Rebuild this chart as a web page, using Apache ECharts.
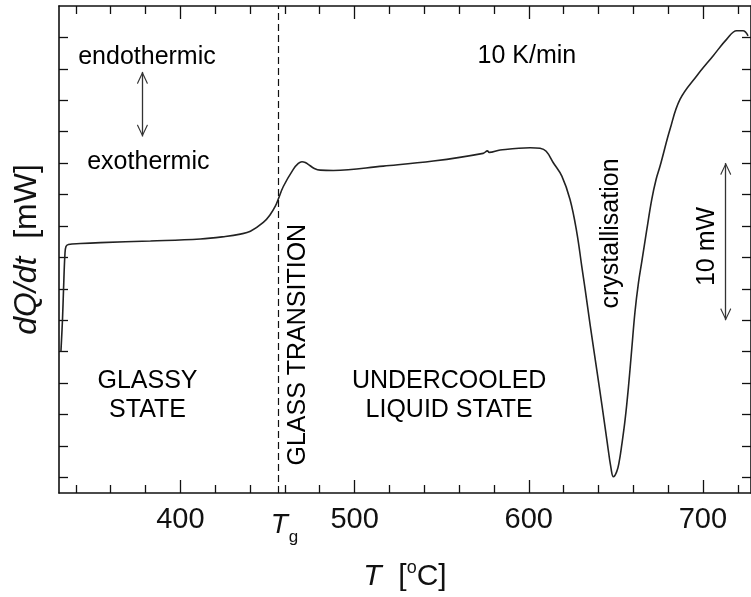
<!DOCTYPE html>
<html><head><meta charset="utf-8">
<script src="https://cdn.jsdelivr.net/npm/echarts@6/dist/echarts.min.js"></script>
<style>html,body{margin:0;padding:0;background:#fff}#c{width:751px;height:597px}</style>
</head><body><div id="c"></div>
<script>
// ---- data ----
const temperatures = [331.4, 332.3, 332.9, 333.7, 334.3, 335.7, 342.6, 354.1, 382.8, 411.5, 425.8, 434.4, 440.2, 447.6, 451.6, 454.5, 456.1, 459.1, 464.8, 467.7, 469.8, 471.7, 473.4, 476.9, 480.3, 487.8, 516.5, 545.2, 573.8, 576.3, 577.3, 583.6, 600.8, 606.5, 610.0, 614.0, 619.0, 623.7, 627.6, 630.5, 632.4, 635.2, 639.1, 642.0, 644.8, 647.3, 648.6, 650.5, 651.9, 653.4, 655.3, 657.2, 659.1, 661.0, 663.0, 664.9, 667.7, 670.6, 673.1, 675.4, 681.1, 686.9, 696.4, 705.8, 713.7, 719.4, 723.0, 725.9];
const heatFlow = [7.99, 10.03, 11.95, 14.18, 14.69, 14.82, 14.88, 14.94, 15.04, 15.17, 15.33, 15.48, 15.66, 16.22, 16.73, 17.26, 17.68, 18.51, 19.60, 19.98, 20.09, 20.04, 19.92, 19.66, 19.55, 19.53, 19.81, 20.13, 20.62, 20.78, 20.68, 20.83, 20.98, 20.94, 20.75, 20.04, 19.17, 17.68, 15.58, 13.38, 11.95, 9.74, 6.80, 4.61, 2.42, 0.53, 0.04, 0.36, 0.98, 2.06, 3.65, 5.70, 8.12, 10.54, 12.39, 13.73, 15.71, 17.68, 18.96, 19.81, 22.15, 24.07, 25.55, 26.82, 27.89, 28.42, 28.42, 28.10];
const xLabelValues = [400, 500, 600, 700];
const xMajorTicks = [400, 500, 600, 700];
const xMinorTicks = [340, 360, 380, 420, 440, 460, 480, 520, 540, 560, 580, 620, 640, 660, 680, 720];
const yTicks = [0, 2, 4, 6, 8, 10, 12, 14, 16, 18, 20, 22, 24, 26, 28];
const tgTemperature = 456;
const annotationTexts = ['endothermic', 'exothermic', 'GLASSY\nSTATE', 'GLASS TRANSITION', 'UNDERCOOLED\nLIQUID STATE', 'crystallisation', '10 mW', '10 K/min'];
const annotationAnchors = [[380.8, 26.75], [381.6, 20.04], [381.1, 5.18], [467.7, 8.44], [554.3, 5.22], [647.3, 15.52], [702.6, 14.69], [598.9, 26.8]];
const annotationRotations = [0, 0, 0, 90, 0, 90, 90, 0];
const arrowSegments = [[[378.2, 21.7], [378.2, 25.8]], [[713.1, 10.0], [713.1, 20.0]]];

// ---- chart ----
const FONT = '"Liberation Sans", Arial, Helvetica, sans-serif';
const INK = '#111111';
const X_MIN = 330.3, X_MAX = 727.6, Y_MIN = -1, Y_MAX = 30;
const frameLine = { show: true, onZero: false, lineStyle: { color: INK, width: 1.6 } };
const noLine = { show: false, onZero: false };

function xAxisDef(position, opts) {
  return Object.assign({
    type: 'value', position: position, min: X_MIN, max: X_MAX, gridIndex: 0,
    splitLine: { show: false }, axisLine: noLine,
    axisTick: { show: false }, axisLabel: { show: false }
  }, opts);
}
function yAxisDef(position, opts) {
  return Object.assign({
    type: 'value', position: position, min: Y_MIN, max: Y_MAX, gridIndex: 0,
    splitLine: { show: false }, axisLine: frameLine,
    axisTick: { show: true, inside: true, length: 9, customValues: yTicks, lineStyle: { color: INK, width: 1.3 } },
    axisLabel: { show: false }
  }, opts);
}
const tickStyle = { color: INK, width: 1.3 };

const chevron = 'path://M0,0 L0,0 Z M0,10 L6,20 L5,20.7 L0,12.2 L-5,20.7 L-6,20 Z';

const option = {
  animation: false,
  backgroundColor: '#ffffff',
  textStyle: { fontFamily: FONT },
  grid: { left: 59, right: 0, top: 6, bottom: 104, outerBoundsMode: 'none' },
  xAxis: [
    xAxisDef('bottom', {
      axisLine: frameLine,
      axisTick: { show: true, inside: true, length: 13, customValues: xMajorTicks, lineStyle: tickStyle },
      axisLabel: { show: true, customValues: xLabelValues, fontSize: 29, color: INK, margin: 12, fontFamily: FONT },
      name: '{i|T}  [{s|o}C]', nameLocation: 'middle', nameGap: 66,
      nameTextStyle: { fontSize: 30, color: INK, fontFamily: FONT,
        rich: { i: { fontSize: 30, fontStyle: 'italic', color: INK, fontFamily: FONT },
                s: { fontSize: 18, color: INK, fontFamily: FONT, padding: [0, 0, 18, 0] } } }
    }),
    xAxisDef('bottom', {
      axisTick: { show: true, inside: true, length: 8, customValues: xMinorTicks, lineStyle: tickStyle }
    }),
    xAxisDef('top', {
      axisLine: frameLine,
      axisTick: { show: true, inside: true, length: 13, customValues: xMajorTicks, lineStyle: tickStyle }
    }),
    xAxisDef('top', {
      axisTick: { show: true, inside: true, length: 8, customValues: xMinorTicks, lineStyle: tickStyle }
    }),
    xAxisDef('bottom', {
      axisLabel: { show: true, customValues: [tgTemperature], align: 'center', margin: 12,
        formatter: function () { return '{t|T}{g|g}'; },
        rich: { t: { fontSize: 28, fontStyle: 'italic', color: INK, fontFamily: FONT, padding: [0, 0, 0, 13] },
                g: { fontSize: 17, color: INK, fontFamily: FONT, padding: [24, 0, 0, 1] } } }
    })
  ],
  yAxis: [
    yAxisDef('left', {
      name: '{i|dQ/dt}  [mW]', nameLocation: 'middle', nameGap: 16,
      nameTextStyle: { fontSize: 32, color: INK, fontFamily: FONT,
        rich: { i: { fontSize: 32, fontStyle: 'italic', color: INK, fontFamily: FONT } } }
    }),
    yAxisDef('right', {})
  ],
  series: [
    {
      type: 'line', xAxisIndex: 0, yAxisIndex: 0,
      data: temperatures.map((t, i) => [t, heatFlow[i]]),
      showSymbol: false, symbol: 'none', smooth: 0.4,
      lineStyle: { color: '#222222', width: 1.6 },
      silent: true,
      markLine: {
        silent: true, symbol: ['none', 'none'], animation: false,
        label: { show: false },
        lineStyle: { color: INK, width: 1.2, type: [7, 4] },
        data: [{ xAxis: tgTemperature }]
      }
    },
    {
      type: 'scatter', xAxisIndex: 0, yAxisIndex: 0, silent: true,
      symbol: 'circle', symbolSize: 0,
      itemStyle: { color: '#000000' },
      label: { show: true, position: 'inside', fontSize: 25, color: '#000000', fontFamily: FONT,
               textBorderWidth: 0, opacity: 1, lineHeight: 29, align: 'center', verticalAlign: 'middle' },
      data: annotationTexts.map((txt, i) => ({
        value: annotationAnchors[i],
        label: { formatter: txt, rotate: annotationRotations[i] }
      })),
      markLine: {
        silent: true, animation: false,
        symbol: [chevron, chevron], symbolSize: [11, 24],
        label: { show: false },
        lineStyle: { color: '#333', width: 1.3, type: 'solid' },
        data: arrowSegments.map(s => [{ coord: s[0] }, { coord: s[1] }])
      }
    }
  ]
};

const chart = echarts.init(document.getElementById('c'), null, { renderer: 'canvas' });
chart.setOption(option);
</script>
</body></html>
